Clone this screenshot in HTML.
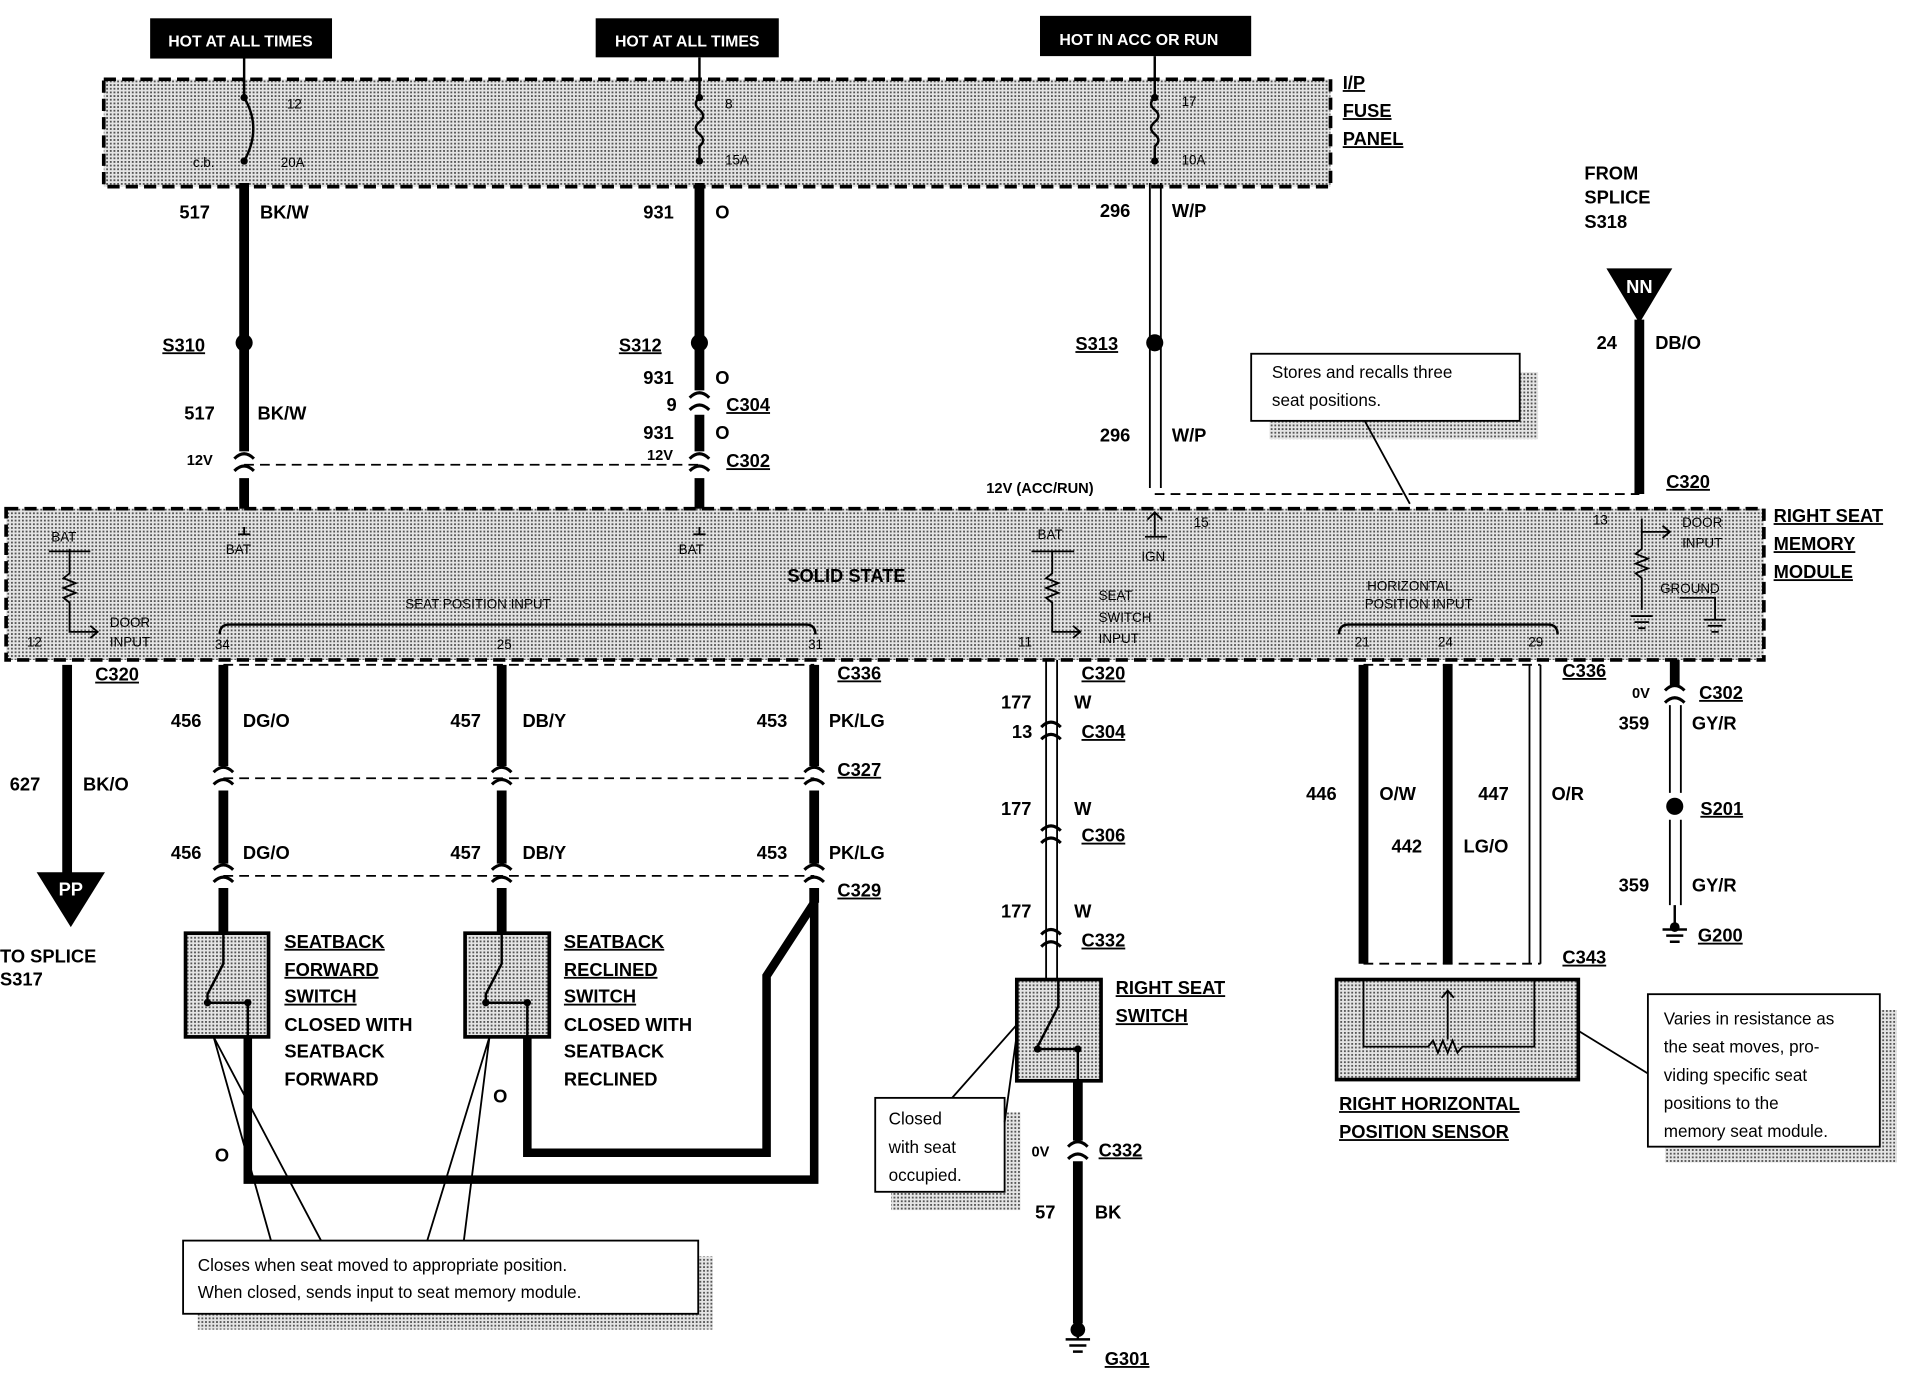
<!DOCTYPE html>
<html><head><meta charset="utf-8"><style>
html,body{margin:0;padding:0;background:#fff;}
svg{display:block}
text{font-family:"Liberation Sans",Arial,sans-serif;font-weight:bold;fill:#000}
.s{font-size:11px;font-weight:normal}
.m{font-size:15px}
.n{font-size:14px;font-weight:normal}
.u{text-decoration:underline}
</style></head><body>
<svg width="1914" height="1376" viewBox="0 0 1568 1128" preserveAspectRatio="none" xmlns="http://www.w3.org/2000/svg">
<defs>
<pattern id="dots" width="3" height="3" patternUnits="userSpaceOnUse">
<rect width="3" height="3" fill="#e4e4e4"/><rect width="1.5" height="1.5" fill="#555"/>
</pattern>
</defs>
<!-- top labels -->
<rect x="123" y="15" width="149" height="33" fill="#000"/>
<text x="197" y="38" font-size="13" fill="#fff" style="fill:#fff" text-anchor="middle">HOT AT ALL TIMES</text>
<rect x="488" y="15" width="150" height="32" fill="#000"/>
<text x="563" y="38" font-size="13" style="fill:#fff" text-anchor="middle">HOT AT ALL TIMES</text>
<rect x="852" y="13" width="173" height="33" fill="#000"/>
<text x="933" y="37" font-size="13" style="fill:#fff" text-anchor="middle">HOT IN ACC OR RUN</text>

<!-- fuse panel -->
<rect x="85" y="65" width="1005" height="88" fill="url(#dots)" stroke="#000" stroke-width="3" stroke-dasharray="10,5"/>
<text x="1100" y="73" class="m u">I/P</text>
<text x="1100" y="96" class="m u">FUSE</text>
<text x="1100" y="119" class="m u">PANEL</text>
<text x="235" y="89" class="s">12</text><text x="158" y="137" class="s">c.b.</text><text x="230" y="137" class="s">20A</text>
<text x="594" y="89" class="s">8</text><text x="594" y="135" class="s">15A</text>
<text x="968" y="87" class="s">17</text><text x="968" y="135" class="s">10A</text>
<path d="M200 48V80 Q215 105 200 132" fill="none" stroke="#000" stroke-width="2"/>
<circle cx="200" cy="80" r="3"/><circle cx="200" cy="132" r="3"/>
<path d="M573 47V80 q-6 5 0 10 q6 5 0 10 q-6 5 0 10 q6 5 0 10 V132" fill="none" stroke="#000" stroke-width="2"/>
<circle cx="573" cy="80" r="3"/><circle cx="573" cy="132" r="3"/>
<path d="M946 46V80 q-6 5 0 10 q6 5 0 10 q-6 5 0 10 q6 5 0 10 V132" fill="none" stroke="#000" stroke-width="2"/>
<circle cx="946" cy="80" r="3"/><circle cx="946" cy="132" r="3"/>

<!-- main wires -->
<g stroke="#000" stroke-width="8" fill="none">
<path d="M200 150V370M200 392V432"/>
<path d="M573 150V320M573 340V370M573 392V432"/>
<path d="M1343 262V405"/>
<path d="M55 545V718"/>
<path d="M183 545V628M183 648V708M183 728V765"/>
<path d="M411 545V628M411 648V708M411 728V765"/>
<path d="M667 545V628M667 648V708M667 728V740"/>
<path d="M1117 545V790M1186 545V790"/>
<path d="M1372 541V562"/>
<path d="M883 886V935M883 952V1085"/>
<path d="M203 850V967H667V740L628 800V945H432V850" stroke-width="7"/>
</g>
<g stroke="#000" stroke-width="1.5" fill="none">
<path d="M942 150V400M951 150V400"/>
<path d="M857 541V803M866 541V803"/>
<path d="M1253 545V790M1262 545V790"/>
<path d="M1368 578V650M1377 578V650M1368 672V742M1377 672V742"/>
</g>
<!-- splices -->
<circle cx="200" cy="281" r="7"/><circle cx="573" cy="281" r="7"/><circle cx="946" cy="281" r="7"/><circle cx="1372" cy="661" r="7"/>
<!-- connector arcs -->
<g stroke="#000" stroke-width="2.5" fill="none">
<path d="M192 376q8-8 16 0M192 386q8-8 16 0"/>
<path d="M565 326q8-8 16 0M565 336q8-8 16 0M565 376q8-8 16 0M565 386q8-8 16 0"/>
<path d="M175 633q8-8 16 0M175 643q8-8 16 0M403 633q8-8 16 0M403 643q8-8 16 0M659 633q8-8 16 0M659 643q8-8 16 0"/>
<path d="M175 713q8-8 16 0M175 723q8-8 16 0M403 713q8-8 16 0M403 723q8-8 16 0M659 713q8-8 16 0M659 723q8-8 16 0"/>
<path d="M853 596q8-8 16 0M853 606q8-8 16 0M853 681q8-8 16 0M853 691q8-8 16 0M853 766q8-8 16 0M853 776q8-8 16 0"/>
<path d="M875 940q8-8 16 0M875 950q8-8 16 0M1364 566q8-8 16 0M1364 576q8-8 16 0"/>
</g>
<!-- dashed links -->
<g stroke="#000" stroke-width="1.5" stroke-dasharray="8,5" fill="none">
<path d="M200 381H573M183 638H667M183 718H667M946 405H1343M1117 545H1262M1117 790H1262M183 545H667"/>
</g>

<!-- module -->
<rect x="5" y="417" width="1440" height="124" fill="url(#dots)" stroke="#000" stroke-width="3" stroke-dasharray="10,5"/>
<text x="1453" y="428" class="m u">RIGHT SEAT</text>
<text x="1453" y="451" class="m u">MEMORY</text>
<text x="1453" y="474" class="m u">MODULE</text>
<text x="645" y="477" font-size="15">SOLID STATE</text>
<text x="185" y="454" class="s">BAT</text><text x="556" y="454" class="s">BAT</text>
<text x="42" y="444" class="s">BAT</text><text x="850" y="442" class="s">BAT</text>
<text x="90" y="514" class="s">DOOR</text><text x="90" y="530" class="s">INPUT</text>
<text x="22" y="530" class="s">12</text><text x="176" y="532" class="s">34</text><text x="407" y="532" class="s">25</text><text x="662" y="532" class="s">31</text>
<text x="332" y="499" class="s">SEAT POSITION INPUT</text>
<path d="M180 520q0-8 8-8H660q8 0 8 8" fill="none" stroke="#000" stroke-width="2"/>
<text x="900" y="492" class="s">SEAT</text><text x="900" y="510" class="s">SWITCH</text><text x="900" y="527" class="s">INPUT</text>
<text x="834" y="530" class="s">11</text>
<text x="978" y="432" class="s">15</text><text x="935" y="460" class="s">IGN</text>
<text x="1120" y="484" class="s">HORIZONTAL</text><text x="1118" y="499" class="s">POSITION INPUT</text>
<path d="M1097 520q0-8 8-8H1268q8 0 8 8" fill="none" stroke="#000" stroke-width="2"/>
<text x="1110" y="530" class="s">21</text><text x="1178" y="530" class="s">24</text><text x="1252" y="530" class="s">29</text>
<text x="1305" y="430" class="s">13</text><text x="1378" y="432" class="s">DOOR</text><text x="1378" y="449" class="s">INPUT</text>
<text x="1360" y="486" class="s">GROUND</text>
<g stroke="#000" stroke-width="1.5" fill="none">
<path d="M200 432V438M195 438h10M573 432V438M568 438h10"/>
<path d="M57 450V470l-5 4 10 4-10 4 10 4-10 4 5 4V518H80M74 513l6 5-6 5M40 452H74"/>
<path d="M862 452V470l-5 4 10 4-10 4 10 4-10 4 5 4V518H885M879 513l6 5-6 5M845 452H880"/>
<path d="M946 440V420M940 426l6-6 6 6M938 440H956"/>
<path d="M1345 425V450l-5 4 10 4-10 4 10 4-10 4 5 4V500M1345 436H1368M1362 431l6 5-6 5"/>
<path d="M1336 505h18M1339 510h12M1342 515h6M1376 490H1405V508M1396 508h18M1399 513h12M1402 518h6"/>
</g>

<!-- NN -->
<text x="1298" y="147" class="m">FROM</text><text x="1298" y="167" class="m">SPLICE</text><text x="1298" y="187" class="m">S318</text>
<path d="M1316 220H1370L1343 265Z"/>
<text x="1343" y="240" font-size="15" style="fill:#fff" text-anchor="middle">NN</text>
<path d="M30 715H86L58 760Z"/>
<text x="58" y="734" font-size="15" style="fill:#fff" text-anchor="middle">PP</text>
<text x="0" y="789" class="m">TO SPLICE</text><text x="0" y="808" class="m">S317</text>

<!-- wire labels -->
<g class="m">
<text x="147" y="179" class="m">517</text><text x="213" y="179" class="m">BK/W</text>
<text x="133" y="288" class="m u">S310</text>
<text x="151" y="344" class="m">517</text><text x="211" y="344" class="m">BK/W</text>
<text x="153" y="381" font-size="12">12V</text>
<text x="527" y="179" class="m">931</text><text x="586" y="179" class="m">O</text>
<text x="507" y="288" class="m u">S312</text>
<text x="527" y="315" class="m">931</text><text x="586" y="315" class="m">O</text>
<text x="546" y="337" class="m">9</text><text x="595" y="337" class="m u">C304</text>
<text x="527" y="360" class="m">931</text><text x="586" y="360" class="m">O</text>
<text x="530" y="377" font-size="12">12V</text><text x="595" y="383" class="m u">C302</text>
<text x="901" y="178" class="m">296</text><text x="960" y="178" class="m">W/P</text>
<text x="881" y="287" class="m u">S313</text>
<text x="901" y="362" class="m">296</text><text x="960" y="362" class="m">W/P</text>
<text x="808" y="404" font-size="12">12V (ACC/RUN)</text>
<text x="1308" y="286" class="m">24</text><text x="1356" y="286" class="m">DB/O</text>
<text x="1365" y="400" class="m u">C320</text>
<text x="78" y="558" class="m u">C320</text>
<text x="8" y="648" class="m">627</text><text x="68" y="648" class="m">BK/O</text>
<text x="140" y="596" class="m">456</text><text x="199" y="596" class="m">DG/O</text>
<text x="369" y="596" class="m">457</text><text x="428" y="596" class="m">DB/Y</text>
<text x="620" y="596" class="m">453</text><text x="679" y="596" class="m">PK/LG</text>
<text x="686" y="557" class="m u">C336</text>
<text x="686" y="636" class="m u">C327</text>
<text x="140" y="704" class="m">456</text><text x="199" y="704" class="m">DG/O</text>
<text x="369" y="704" class="m">457</text><text x="428" y="704" class="m">DB/Y</text>
<text x="620" y="704" class="m">453</text><text x="679" y="704" class="m">PK/LG</text>
<text x="686" y="735" class="m u">C329</text>
<text x="886" y="557" class="m u">C320</text>
<text x="820" y="581" class="m">177</text><text x="880" y="581" class="m">W</text>
<text x="829" y="605" class="m">13</text><text x="886" y="605" class="m u">C304</text>
<text x="820" y="668" class="m">177</text><text x="880" y="668" class="m">W</text>
<text x="886" y="690" class="m u">C306</text>
<text x="820" y="752" class="m">177</text><text x="880" y="752" class="m">W</text>
<text x="886" y="776" class="m u">C332</text>
<text x="845" y="948" font-size="12">0V</text><text x="900" y="948" class="m u">C332</text>
<text x="848" y="999" class="m">57</text><text x="897" y="999" class="m">BK</text>
<text x="905" y="1119" class="m u">G301</text>
<text x="1280" y="555" class="m u">C336</text>
<text x="1070" y="656" class="m">446</text><text x="1130" y="656" class="m">O/W</text>
<text x="1211" y="656" class="m">447</text><text x="1271" y="656" class="m">O/R</text>
<text x="1140" y="699" class="m">442</text><text x="1199" y="699" class="m">LG/O</text>
<text x="1280" y="790" class="m u">C343</text>
<text x="1337" y="572" font-size="12">0V</text><text x="1392" y="573" class="m u">C302</text>
<text x="1326" y="598" class="m">359</text><text x="1386" y="598" class="m">GY/R</text>
<text x="1393" y="668" class="m u">S201</text>
<text x="1326" y="731" class="m">359</text><text x="1386" y="731" class="m">GY/R</text>
<text x="1391" y="772" class="m u">G200</text>
</g>
<g stroke="#000" stroke-width="2" fill="none">
<path d="M1372 742V762M1362 762h20M1365 767h14M1368 772h8"/>
<path d="M883 1085V1098M873 1098h20M876 1103h14M879 1108h8"/>
</g>
<circle cx="1372" cy="760" r="4"/><circle cx="883" cy="1090" r="6"/>

<!-- switches -->
<rect x="152" y="765" width="68" height="85" fill="url(#dots)" stroke="#000" stroke-width="3"/>
<rect x="381" y="765" width="69" height="85" fill="url(#dots)" stroke="#000" stroke-width="3"/>
<rect x="833" y="803" width="69" height="83" fill="url(#dots)" stroke="#000" stroke-width="3"/>
<g stroke="#000" stroke-width="2" fill="none">
<path d="M183 765V790L170 815V822H203V850M411 765V790L398 815V822H432V850M867 803V825L850 858V860H883V886"/>
</g>
<circle cx="170" cy="822" r="3"/><circle cx="203" cy="822" r="3"/><circle cx="398" cy="822" r="3"/><circle cx="432" cy="822" r="3"/><circle cx="850" cy="860" r="3"/><circle cx="883" cy="860" r="3"/>
<g class="m">
<text x="233" y="777" class="m u">SEATBACK</text><text x="233" y="800" class="m u">FORWARD</text><text x="233" y="822" class="m u">SWITCH</text>
<text x="233" y="845" class="m" font-weight="normal">CLOSED WITH</text><text x="233" y="867" class="m">SEATBACK</text><text x="233" y="890" class="m">FORWARD</text>
<text x="462" y="777" class="m u">SEATBACK</text><text x="462" y="800" class="m u">RECLINED</text><text x="462" y="822" class="m u">SWITCH</text>
<text x="462" y="845" class="m">CLOSED WITH</text><text x="462" y="867" class="m">SEATBACK</text><text x="462" y="890" class="m">RECLINED</text>
<text x="914" y="815" class="m u">RIGHT SEAT</text><text x="914" y="838" class="m u">SWITCH</text>
<text x="176" y="952" class="m">O</text><text x="404" y="904" class="m">O</text>
<text x="1097" y="910" class="m u">RIGHT HORIZONTAL</text><text x="1097" y="933" class="m u">POSITION SENSOR</text>
</g>
<!-- sensor -->
<rect x="1095" y="803" width="198" height="82" fill="url(#dots)" stroke="#000" stroke-width="3"/>
<g stroke="#000" stroke-width="1.5" fill="none">
<path d="M1117 803V858H1170l4-5 4 10 4-10 4 10 4-10 4 10 4-5H1257V803M1186 812V852"/>
<path d="M1181 818l5-6 5 6"/>
</g>

<!-- callouts -->
<rect x="1040" y="305" width="220" height="55" fill="url(#dots)"/>
<rect x="1025" y="290" width="220" height="55" fill="#fff" stroke="#000" stroke-width="1.5"/>
<text x="1042" y="310" class="n">Stores and recalls three</text><text x="1042" y="333" class="n">seat positions.</text>
<path d="M1118 345L1155 413" stroke="#000" stroke-width="1.5"/>
<rect x="162" y="1030" width="422" height="60" fill="url(#dots)"/>
<rect x="150" y="1017" width="422" height="60" fill="#fff" stroke="#000" stroke-width="1.5"/>
<text x="162" y="1042" class="n">Closes when seat moved to appropriate position.</text>
<text x="162" y="1064" class="n">When closed, sends input to seat memory module.</text>
<g stroke="#000" stroke-width="1.5"><path d="M175 850L222 1017M175 850L263 1017M401 850L350 1017M401 850L380 1017"/></g>
<rect x="730" y="912" width="106" height="80" fill="url(#dots)"/>
<rect x="717" y="900" width="106" height="77" fill="#fff" stroke="#000" stroke-width="1.5"/>
<text x="728" y="922" class="n">Closed</text><text x="728" y="945" class="n">with seat</text><text x="728" y="968" class="n">occupied.</text>
<path d="M780 900L833 840M823 920L833 848" stroke="#000" stroke-width="1.5"/>
<rect x="1364" y="828" width="190" height="125" fill="url(#dots)"/>
<rect x="1350" y="815" width="190" height="125" fill="#fff" stroke="#000" stroke-width="1.5"/>
<text x="1363" y="840" class="n">Varies in resistance as</text><text x="1363" y="863" class="n">the seat moves, pro-</text>
<text x="1363" y="886" class="n">viding specific seat</text><text x="1363" y="909" class="n">positions to the</text><text x="1363" y="932" class="n">memory seat module.</text>
<path d="M1293 845L1350 880" stroke="#000" stroke-width="1.5"/>
</svg>
</body></html>
